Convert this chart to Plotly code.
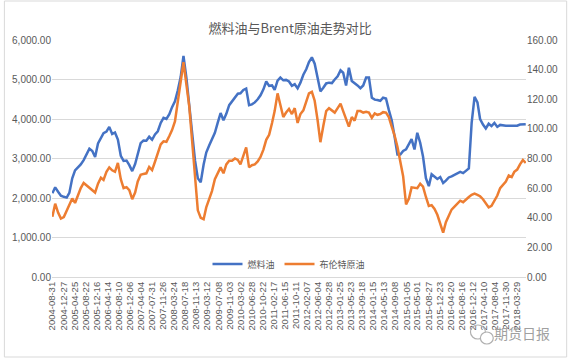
import calendar
import plotly.graph_objects as go

# Month-end sample dates, 2004-08 .. 2018-06
months = []
y, m = 2004, 8
while (y, m) <= (2018, 6):
    d = calendar.monthrange(y, m)[1]
    months.append(f"{y:04d}-{m:02d}-{d:02d}")
    m += 1
    if m > 12:
        m = 1
        y += 1

fuel_oil = [
    2120, 2270, 2160, 2060, 2030, 2010, 2130, 2500, 2700, 2780,
    2850, 2960, 3130, 3250, 3190, 3040, 3380, 3520, 3640, 3680,
    3800, 3620, 3660, 3480, 3070, 2940, 2950, 2830, 2680, 2860,
    3150, 3390, 3455, 3450, 3550, 3475, 3610, 3690, 3900, 4030,
    4000, 4120, 4300, 4450, 4720, 5060, 5600, 5050, 4340, 3650,
    2950, 2500, 2400, 2850, 3150, 3330, 3470, 3650, 3900, 4150,
    3970, 4130, 4350, 4450, 4560, 4640, 4650, 4735, 4770, 4350,
    4370, 4420, 4500, 4600, 4750, 4950, 4840, 4850, 4740, 4970,
    5050, 4980, 4990, 4950, 4840, 4880, 4775, 4920, 5120, 5260,
    5440, 5560, 5400, 5070, 4700, 4790, 4900, 4920, 4910, 5000,
    5080, 5230, 5170, 4850, 5300, 4960, 4910, 4850, 4780, 4850,
    5050, 5050, 4540, 4490, 4480, 4460, 4540, 4520, 4230, 3970,
    3550, 3100, 3100, 3190, 3230, 3370, 3490, 3230, 3650, 3400,
    3050, 2500, 2300, 2600, 2550, 2480, 2530, 2380, 2440, 2520,
    2550, 2590, 2620, 2660, 2630, 2700, 2750, 3900, 4560, 4420,
    4000, 3860, 3760, 3880, 3820, 3900, 3800, 3850, 3830, 3830,
    3830, 3830, 3830, 3830, 3860, 3870, 3870,
]

brent = [
    40.7, 49.5, 43.5, 39.5, 40.5, 44.5, 48.5, 53, 50, 55,
    60, 63.5, 62, 60.5, 59, 57, 63, 67, 65.5, 71,
    74, 72, 71, 77, 66, 60, 60.7, 58.7, 52.5, 57,
    64.5, 69, 69.6, 70, 74.3, 72.2, 77.8, 83.5, 89.5, 91.6,
    91.3, 95.2, 99.2, 105, 117.5, 132, 145, 130, 115, 92,
    67, 45, 40, 39, 47, 52, 58, 66, 70, 74,
    70, 76, 78.5, 78.5, 80, 79, 76, 82.5, 87.5, 74,
    75.5, 76, 78, 81, 86, 92.6, 96, 104, 112, 124,
    117, 108, 111, 113.5, 110, 114, 104, 110, 112.5, 118,
    124, 125, 119, 106, 91, 102, 112, 114, 112.5, 111,
    114, 117, 112, 106, 101.5, 108, 105.5, 112, 112, 111,
    111.5, 111, 107.5, 110.5, 109.5, 110, 111.3, 111, 108, 101.5,
    95.5, 88, 79, 68, 49, 53, 60.5, 60, 60, 63,
    61, 54, 48, 48.5, 46, 42, 35.5, 30, 37, 42,
    45.5, 47.5, 49.5, 51.5, 50.5, 52.5, 54, 55.5, 56.3, 55.5,
    54.5, 52.5, 50, 47, 48, 51.5, 55, 60, 62.5, 64.5,
    68.5, 67.5, 71, 72.5, 76, 79, 77,
]

tick_labels = [
    "2004-08-31", "2004-12-27", "2005-04-25", "2005-08-22", "2005-12-16",
    "2006-04-14", "2006-08-10", "2006-12-06", "2007-04-04", "2007-07-31",
    "2007-11-26", "2008-03-24", "2008-07-18", "2008-11-13", "2009-03-12",
    "2009-07-08", "2009-11-03", "2010-03-02", "2010-06-28", "2010-10-22",
    "2011-02-17", "2011-06-15", "2011-10-11", "2012-02-07", "2012-06-04",
    "2012-09-28", "2013-01-25", "2013-05-23", "2013-09-18", "2014-01-15",
    "2014-05-13", "2014-09-08", "2015-01-05", "2015-05-01", "2015-08-27",
    "2015-12-23", "2016-04-20", "2016-08-16", "2016-12-12", "2017-04-10",
    "2017-08-04", "2017-11-30", "2018-03-29",
]

W, H = 570, 359
L, R, T, B = 49, 43, 40, 82
PW, PH = W - L - R, H - T - B


def px(x):
    return (x - L) / PW


def py(yy):
    return (H - B - yy) / PH


grey = "#595959"
num_font = "Liberation Sans, Arial, sans-serif"
cjk_font = "Noto Sans CJK SC, sans-serif"

fig = go.Figure()
fig.add_trace(go.Scatter(x=months, y=fuel_oil, name="燃料油", mode="lines",
                         line=dict(color="#4472C4", width=2.5), yaxis="y"))
fig.add_trace(go.Scatter(x=months, y=brent, name="布伦特原油", mode="lines",
                         line=dict(color="#ED7D31", width=2.5), yaxis="y2"))

fig.update_layout(
    width=W, height=H,
    margin=dict(l=L, r=R, t=T, b=B),
    paper_bgcolor="white", plot_bgcolor="white",
    title=dict(text="燃料油与Brent原油走势对比", x=0.509, xanchor="center",
               y=1 - 28 / H, yanchor="middle",
               font=dict(family=cjk_font, size=13, color=grey)),
    legend=dict(orientation="h", x=px(288), xanchor="center", y=py(264), yanchor="middle",
                font=dict(family=cjk_font, size=9, color=grey),
                bgcolor="rgba(0,0,0,0)", itemwidth=30, tracegroupgap=0),
    xaxis=dict(type="date", range=["2004-08-27", "2018-07-03"],
               tickvals=tick_labels, ticktext=tick_labels, tickangle=-90,
               tickfont=dict(family=num_font, size=9.5, color=grey),
               showgrid=False, showline=True, linecolor="#d9d9d9", linewidth=1,
               ticks="", zeroline=False),
    yaxis=dict(range=[0, 6000], dtick=1000, tickformat=",.2f",
               tickfont=dict(family=num_font, size=10, color=grey),
               showgrid=True, gridcolor="#d9d9d9", gridwidth=1, zeroline=False,
               showline=False, ticks=""),
    yaxis2=dict(range=[0, 160], dtick=20, tickformat=".2f", overlaying="y", side="right",
                tickfont=dict(family=num_font, size=10, color=grey),
                showgrid=False, zeroline=False, showline=False, ticks=""),
    shapes=[
        dict(type="rect", xref="paper", yref="paper",
             x0=px(1), x1=px(568), y0=py(357), y1=py(1),
             line=dict(color="#d9d9d9", width=1), layer="below"),
        dict(type="circle", xref="paper", yref="paper",
             x0=px(471), x1=px(486), y0=py(339), y1=py(325),
             line=dict(color="#b0b0b0", width=1.2)),
        dict(type="circle", xref="paper", yref="paper",
             x0=px(481), x1=px(494), y0=py(344), y1=py(332),
             line=dict(color="#b0b0b0", width=1.2), fillcolor="white"),
    ],
    annotations=[
        dict(text="期货日报", xref="paper", yref="paper", x=px(523), y=py(333),
             xanchor="center", yanchor="middle", showarrow=False,
             font=dict(family=cjk_font, size=14, color="#a0a0a0")),
    ],
)

fig.write_html("out.html", config={"displayModeBar": False},
               post_script="document.body.style.margin='0';document.body.style.padding='0';")
